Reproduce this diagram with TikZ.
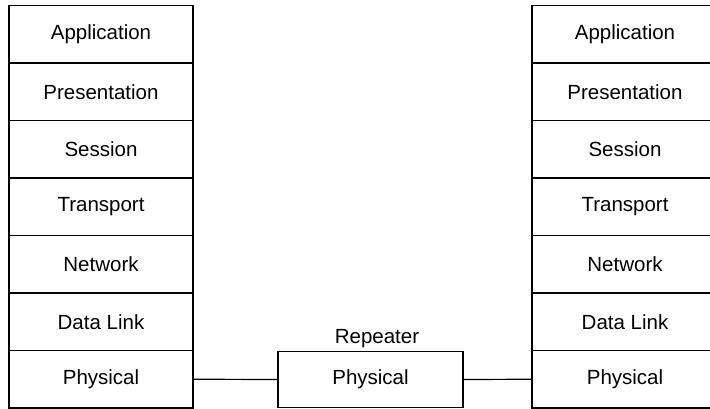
\documentclass[tikz,border=0pt]{standalone}
\usepackage{fontspec}
\setmainfont{Liberation Sans}
\begin{document}
\begin{tikzpicture}[x=1pt,y=-1pt,
  layer/.style={draw=black,line width=1.2pt,rectangle,minimum width=184pt,minimum height=57.5pt,
    inner sep=0pt,font=\fontsize{20.5}{24}\selectfont},
  link/.style={draw=black,line width=1.2pt},
  caption/.style={font=\fontsize{20.5}{24}\selectfont,inner sep=0pt}]
\useasboundingbox (0,0) rectangle (710,408);
\clip (0,0) rectangle (710,408);
% left protocol stack
\foreach \t [count=\i] in {Application,Presentation,Session,Transport,Network,Data Link,Physical}
  \node[layer] (L\i) at (101,{5.5+57.5*(\i-0.5)}) {\t};
% right protocol stack, cut off by the right edge
\foreach \t [count=\i] in {Application,Presentation,Session,Transport,Network,Data Link,Physical}
  \node[layer,minimum width=186pt] (R\i) at (625,{5.5+57.5*(\i-0.5)}) {\t};
% repeater in the middle
\node[layer,minimum width=185pt,minimum height=56pt] (rep) at (370.5,379.5) {Physical};
\node[caption,anchor=base] (replabel) at (377,343) {Repeater};
\draw[link] (L7.east) -- (rep.west);
\draw[link] (rep.east) -- (R7.west);
\end{tikzpicture}
\end{document}
